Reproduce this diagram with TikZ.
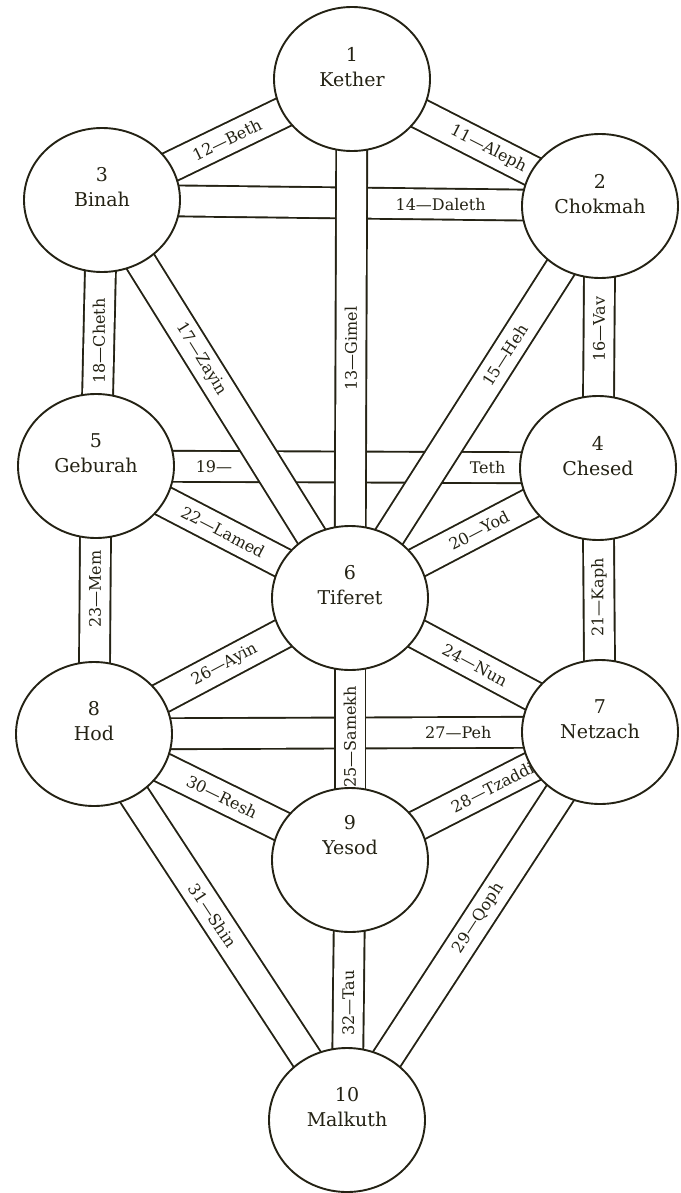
\documentclass[tikz,border=0pt]{standalone}
\usepackage{fontspec}
\setmainfont{DejaVu Serif}
\usetikzlibrary{shapes.geometric}
\definecolor{ink}{RGB}{36,34,20}
\pgfdeclarelayer{background}
\pgfsetlayers{background,main}
\tikzset{
  sephira/.style={draw=ink, text=ink, ellipse, line width=1.9pt, fill=white,
    minimum width=156pt, minimum height=144pt, inner sep=0pt, align=center,
    font=\fontsize{19}{25}\selectfont},
  band/.style={draw=ink, line width=1.9pt, double distance=29pt},
  plabel/.style={text=ink, inner sep=1pt, font=\fontsize{16}{18}\selectfont},
}
\newcommand{\sef}[2]{#1\\#2\\\phantom{#1}}

\begin{document}
\begin{tikzpicture}[x=1pt, y=-1pt]
\useasboundingbox (0,0) rectangle (680,1193);

% the ten sephiroth
\node[sephira] (kether)  at (352,79)   {\sef{1}{Kether}};
\node[sephira] (chokmah) at (600,206)  {\sef{2}{Chokmah}};
\node[sephira] (binah)   at (102,200)  {\sef{3}{Binah}};
\node[sephira] (chesed)  at (598,468)  {\sef{4}{Chesed}};
\node[sephira] (geburah) at (96,466)   {\sef{5}{Geburah}};
\node[sephira] (tiferet) at (350,598)  {\sef{6}{Tiferet}};
\node[sephira] (netzach) at (600,732)  {\sef{7}{Netzach}};
\node[sephira] (hod)     at (94,734)   {\sef{8}{Hod}};
\node[sephira] (yesod)   at (350,860)  {9\\Yesod\\\phantom{9}\\\phantom{9}};
\node[sephira] (malkuth) at (347,1120) {\sef{10}{Malkuth}};

% the 22 paths, behind the circles
\begin{pgfonlayer}{background}
% paths that pass under others
\draw[band] (binah.center) -- node[plabel, pos=.68] {14---Daleth} (chokmah.center);
\draw[band] (geburah.center) -- node[plabel, pos=.235] {19---} node[plabel, pos=.78] {Teth} (chesed.center);
\draw[band] (hod.center) -- node[plabel, pos=.72] {27---Peh} (netzach.center);

\draw[band] (kether.center) -- node[plabel, sloped, pos=.55] {11---Aleph} (chokmah.center);
\draw[band] (binah.center) -- node[plabel, sloped, pos=.5] {12---Beth} (kether.center);
\draw[band] (kether.center) -- node[plabel, rotate=90, pos=.52] {13---Gimel} (tiferet.center);
\draw[band] (tiferet.center) -- node[plabel, sloped, pos=.62] {15---Heh} (chokmah.center);
\draw[band] (chokmah.center) -- node[plabel, rotate=90, pos=.47] {16---Vav} (chesed.center);
\draw[band] (binah.center) -- node[plabel, sloped, pos=.4] {17---Zayin} (tiferet.center);
\draw[band] (binah.center) -- node[plabel, rotate=90, pos=.53] {18---Cheth} (geburah.center);
\draw[band] (tiferet.center) -- node[plabel, sloped, pos=.52] {20---Yod} (chesed.center);
\draw[band] (chesed.center) -- node[plabel, rotate=90, pos=.49] {21---Kaph} (netzach.center);
\draw[band] (geburah.center) -- node[plabel, sloped, pos=.5] {22---Lamed} (tiferet.center);
\draw[band] (geburah.center) -- node[plabel, rotate=90, pos=.46] {23---Mem} (hod.center);
\draw[band] (tiferet.center) -- node[plabel, sloped, pos=.5] {24---Nun} (netzach.center);
\draw[band] (tiferet.center) -- node[plabel, rotate=90, pos=.53] {25---Samekh} (yesod.center);
\draw[band] (hod.center) -- node[plabel, sloped, pos=.51] {26---Ayin} (tiferet.center);
\draw[band] (yesod.center) -- node[plabel, sloped, pos=.57] {28---Tzaddi} (netzach.center);
\draw[band] (malkuth.center) -- node[plabel, sloped, pos=.52] {29---Qoph} (netzach.center);
\draw[band] (hod.center) -- node[plabel, sloped, pos=.5] {30---Resh} (yesod.center);
\draw[band] (hod.center) -- node[plabel, sloped, pos=.47] {31---Shin} (malkuth.center);
\draw[band] (yesod.center) -- node[plabel, rotate=90, pos=.55] {32---Tau} (malkuth.center);
\end{pgfonlayer}
\end{tikzpicture}
\end{document}
